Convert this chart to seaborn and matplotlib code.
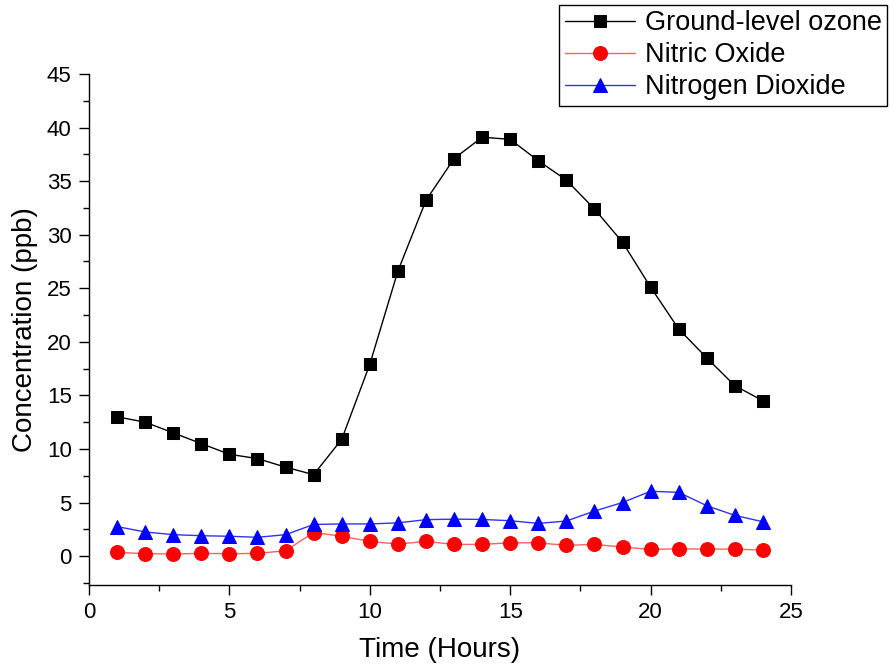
import matplotlib
matplotlib.use("Agg")
import matplotlib.pyplot as plt
import seaborn as sns
import pandas as pd
from matplotlib.ticker import MultipleLocator

hours = list(range(1, 25))
ozone = [13.0, 12.5, 11.5, 10.5, 9.5, 9.1, 8.3, 7.6, 10.9, 17.9, 26.6, 33.2,
         37.1, 39.1, 38.9, 36.9, 35.1, 32.4, 29.3, 25.1, 21.2, 18.5, 15.9, 14.5]
nitric_oxide = [0.35, 0.22, 0.2, 0.25, 0.22, 0.25, 0.5, 2.2, 1.85, 1.37, 1.12, 1.37,
                1.09, 1.09, 1.24, 1.24, 1.0, 1.09, 0.84, 0.62, 0.68, 0.65, 0.65, 0.56]
nitrogen_dioxide = [2.75, 2.25, 2.0, 1.9, 1.85, 1.75, 2.0, 2.95, 3.0, 3.0, 3.1, 3.4,
                    3.45, 3.42, 3.3, 3.05, 3.27, 4.2, 5.0, 6.05, 5.95, 4.7, 3.8, 3.2]
series_names = ["Ground-level ozone", "Nitric Oxide", "Nitrogen Dioxide"]

sns.set_style("ticks")
plt.rcParams['font.family'] = ['Liberation Sans', 'DejaVu Sans']
plt.rcParams.update({"text.color": "black", "axes.labelcolor": "black",
                     "xtick.color": "black", "ytick.color": "black",
                     "axes.edgecolor": "black"})

fig = plt.figure(figsize=(8.94, 6.72), dpi=100)
ax = fig.add_axes([89/894, 87/672, 702/894, 511/672])

df = pd.DataFrame({"hour": hours, "ozone": ozone, "no": nitric_oxide, "no2": nitrogen_dioxide})

sns.lineplot(data=df, x="hour", y="ozone", ax=ax, color="black", lw=1.0,
             marker="s", markersize=8.5, markerfacecolor="black", markeredgecolor="black",
             label=series_names[0])
sns.lineplot(data=df, x="hour", y="no", ax=ax, color="#ff6060", lw=1.0,
             marker="o", markersize=10, markerfacecolor="#ff0000", markeredgecolor="#ff0000",
             label=series_names[1])
sns.lineplot(data=df, x="hour", y="no2", ax=ax, color="#3030ff", lw=1.0,
             marker="^", markersize=10.5, markerfacecolor="#0000ff", markeredgecolor="#0000ff",
             label=series_names[2])

ax.set_xlim(0, 25)
ax.set_ylim(-2.7, 45)
ax.xaxis.set_major_locator(MultipleLocator(5))
ax.xaxis.set_minor_locator(MultipleLocator(2.5))
ax.yaxis.set_major_locator(MultipleLocator(5))
ax.yaxis.set_minor_locator(MultipleLocator(2.5))
ax.tick_params(which="major", direction="out", length=7.5, width=1, labelsize=16, pad=5)
ax.tick_params(which="minor", direction="out", length=4, width=1)
for s in ["top", "right"]:
    ax.spines[s].set_visible(False)
for s in ["left", "bottom"]:
    ax.spines[s].set_linewidth(1.0)

ax.set_xlabel("Time (Hours)", fontsize=20, labelpad=10)
ax.set_ylabel("Concentration (ppb)", fontsize=20, labelpad=6)

leg = ax.legend(loc="upper right", bbox_to_anchor=(887/894, 1 - 5/672),
                bbox_transform=fig.transFigure, fontsize=19.5, frameon=True, fancybox=False,
                edgecolor="black", framealpha=1, borderpad=0.2, labelspacing=0.22,
                handlelength=2.6, handletextpad=0.35, borderaxespad=0)
leg.get_frame().set_linewidth(1.0)

fig.savefig("out.png", dpi=100)
